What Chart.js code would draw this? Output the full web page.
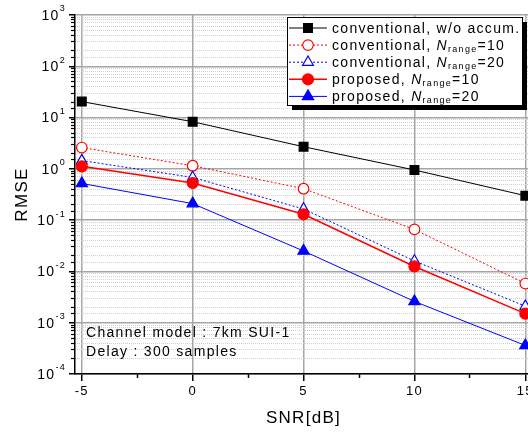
<!DOCTYPE html>
<html>
<head>
<meta charset="utf-8">
<script src="https://cdn.jsdelivr.net/npm/chart.js@4/dist/chart.umd.min.js"></script>
<style>
html, body { margin: 0; padding: 0; overflow: hidden; background: #fff; }
</style>
</head>
<body>
<canvas id="rmseChart" width="540" height="432"></canvas>
<script>
// SNR points and RMSE readings
const snrDb = [-5, 0, 5, 10, 15];
const snrMinorTicks = [-2.5, 2.5, 7.5, 12.5];
const rmseConvWoAccum = [20.5, 8.3, 2.7, 0.95, 0.3];
const rmseConvN10 = [2.6, 1.15, 0.41, 0.066, 0.0058];
const rmseConvN20 = [1.45, 0.68, 0.165, 0.016, 0.0021];
const rmsePropN10 = [1.12, 0.53, 0.13, 0.0125, 0.0015];
const rmsePropN20 = [0.52, 0.21, 0.025, 0.0026, 0.00036];
const decades = [-4, -3, -2, -1, 0, 1, 2, 3];

// legend text: prefix, then N_range = value (null for plain entries)
const legendPrefix = ['conventional, w/o accum.', 'conventional, ', 'conventional, ', 'proposed, ', 'proposed, '];
const legendRange = [null, '10', '20', '10', '20'];
const noteLines = ['Channel model : 7km SUI-1', 'Delay : 300 samples'];

const FONT = '"Liberation Sans", Arial, sans-serif';
Chart.defaults.font.family = FONT;
Chart.defaults.color = '#000';

function pts(vals) {
    return vals.map((v, i) => ({ x: snrDb[i], y: v }));
}
function isDecade(v) {
    const l = Math.log10(v);
    return Math.abs(l - Math.round(l)) < 1e-6;
}

const seriesStyle = [
    { color: '#000000', dash: [], marker: 'rect', r: 6.2, open: false, width: 1 },
    { color: '#ff0000', dash: [2, 2], marker: 'circle', r: 5.3, open: true, width: 1 },
    { color: '#0000ff', dash: [2, 2], marker: 'triangle', r: 6.2, open: true, width: 1 },
    { color: '#ff0000', dash: [], marker: 'circle', r: 5.5, open: false, width: 1.5 },
    { color: '#0000ff', dash: [], marker: 'triangle', r: 6.5, open: false, width: 1 }
];
const seriesData = [rmseConvWoAccum, rmseConvN10, rmseConvN20, rmsePropN10, rmsePropN20];

const datasets = seriesData.map((vals, i) => {
    const s = seriesStyle[i];
    return {
        label: legendPrefix[i] + (legendRange[i] ? 'Nrange=' + legendRange[i] : ''),
        data: pts(vals),
        borderColor: s.color,
        borderWidth: s.width,
        borderDash: s.dash,
        fill: false,
        tension: 0,
        pointStyle: s.marker,
        pointRadius: s.r,
        pointHoverRadius: s.r,
        pointBackgroundColor: s.open ? '#ffffff' : s.color,
        pointBorderColor: s.color,
        pointBorderWidth: 1.2,
        order: 4 - i
    };
});

function drawMarker(ctx, s, x, y) {
    ctx.save();
    ctx.setLineDash([]);
    ctx.lineWidth = 1.2;
    ctx.strokeStyle = s.color;
    ctx.fillStyle = s.open ? '#ffffff' : s.color;
    ctx.beginPath();
    if (s.marker === 'rect') {
        const h = s.r * Math.SQRT1_2;
        ctx.rect(x - h, y - h, 2 * h, 2 * h);
    } else if (s.marker === 'circle') {
        ctx.arc(x, y, s.r, 0, Math.PI * 2);
    } else {
        for (let k = 0; k < 3; k++) {
            const a = k * 2 * Math.PI / 3;
            const px = x + Math.sin(a) * s.r, py = y - Math.cos(a) * s.r;
            if (k === 0) ctx.moveTo(px, py); else ctx.lineTo(px, py);
        }
        ctx.closePath();
    }
    ctx.fill();
    ctx.stroke();
    ctx.restore();
}

const extras = {
    id: 'extras',
    beforeDraw(chart) {
        chart.ctx.letterSpacing = '1.3px';
    },
    afterDraw(chart) {
        const ctx = chart.ctx;
        const y = chart.scales.y;
        ctx.save();
        ctx.fillStyle = '#000';

        // y tick labels with superscript exponents
        decades.forEach(e => {
            const py = y.getPixelForValue(Math.pow(10, e));
            ctx.font = '14px ' + FONT;
            const wBase = ctx.measureText('10').width;
            ctx.font = '9px ' + FONT;
            const wExp = ctx.measureText(String(e)).width;
            const x0 = 66 - wBase - wExp;
            ctx.textBaseline = 'middle';
            ctx.textAlign = 'left';
            ctx.font = '14px ' + FONT;
            ctx.fillText('10', x0, py + 1);
            ctx.font = '9px ' + FONT;
            ctx.fillText(String(e), x0 + wBase, py - 6);
        });

        // annotation
        ctx.font = '14px ' + FONT;
        ctx.textBaseline = 'middle';
        ctx.textAlign = 'left';
        noteLines.forEach((t, i) => ctx.fillText(t, 86, 333 + i * 19));

        // legend box with shadow
        const bx = 287, by = 17, bw = 235, bh = 88;
        ctx.fillStyle = '#000';
        ctx.fillRect(bx + 5, by + 5, bw, bh);
        ctx.fillStyle = '#fff';
        ctx.fillRect(bx, by, bw, bh);
        ctx.strokeStyle = '#000';
        ctx.lineWidth = 1;
        ctx.strokeRect(bx + 0.5, by + 0.5, bw, bh);

        legendPrefix.forEach((txt, i) => {
            const s = seriesStyle[i];
            const rowY = 28 + i * 17.1;
            ctx.save();
            ctx.strokeStyle = s.color;
            ctx.lineWidth = s.width;
            ctx.setLineDash(s.dash);
            ctx.beginPath();
            ctx.moveTo(289, rowY);
            ctx.lineTo(327, rowY);
            ctx.stroke();
            ctx.restore();
            drawMarker(ctx, s, 308, rowY);

            ctx.fillStyle = '#000';
            ctx.textBaseline = 'alphabetic';
            const base = rowY + 5;
            let x = 332;
            ctx.font = '14px ' + FONT;
            ctx.fillText(txt, x, base);
            x += ctx.measureText(txt).width;
            if (legendRange[i]) {
                ctx.font = 'italic 14px ' + FONT;
                ctx.fillText('N', x, base);
                x += ctx.measureText('N').width;
                ctx.font = '9px ' + FONT;
                ctx.fillText('range', x, base + 2);
                x += ctx.measureText('range').width;
                ctx.font = '14px ' + FONT;
                ctx.fillText('=' + legendRange[i], x, base);
            }
        });
        ctx.restore();
    }
};

new Chart(document.getElementById('rmseChart'), {
    type: 'line',
    data: { datasets: datasets },
    options: {
        responsive: false,
        animation: false,
        devicePixelRatio: 1,
        layout: { padding: { top: 15, right: 8, left: 0, bottom: 0 } },
        plugins: { legend: { display: false }, tooltip: { enabled: false } },
        scales: {
            x: {
                type: 'linear',
                position: 'bottom',
                min: -5.306,
                max: 15.3,
                weight: 1,
                afterBuildTicks: s => { s.ticks = snrDb.map(v => ({ value: v })); },
                afterFit: s => { s.height = 58; },
                grid: { color: '#a6a6a6', lineWidth: 1.5, tickLength: 7, tickColor: '#000', tickWidth: 1.5 },
                border: { color: '#000', width: 1.5 },
                ticks: { font: { size: 13 }, padding: 3, maxRotation: 0, autoSkip: false },
                title: { display: true, text: 'SNR[dB]', font: { size: 17 }, padding: { top: 0, bottom: 3 } }
            },
            xMinor: {
                type: 'linear',
                position: 'bottom',
                min: -5.306,
                max: 15.3,
                weight: 0,
                afterBuildTicks: s => { s.ticks = snrMinorTicks.map(v => ({ value: v })); },
                afterFit: s => { s.height = 0; },
                grid: { drawOnChartArea: false, tickLength: 4, tickColor: '#000', tickWidth: 1.5 },
                border: { display: false },
                ticks: { display: false }
            },
            y: {
                type: 'logarithmic',
                position: 'left',
                min: 1e-4,
                max: 1e3,
                weight: 1,
                afterFit: s => { s.width = 75; },
                ticks: { display: false },
                grid: {
                    color: c => isDecade(c.tick.value) ? '#a6a6a6' : 'rgba(0,0,0,0)',
                    lineWidth: 1.5,
                    tickLength: 6,
                    tickColor: c => isDecade(c.tick.value) ? '#000' : 'rgba(0,0,0,0)',
                    tickWidth: 1.5
                },
                border: { color: '#000', width: 1.5 },
                title: { display: true, text: 'RMSE', font: { size: 17 }, padding: { top: 12 } }
            },
            yMinor: {
                type: 'logarithmic',
                position: 'left',
                min: 1e-4,
                max: 1e3,
                weight: 0,
                afterFit: s => { s.width = 0; },
                ticks: { display: false },
                grid: {
                    color: c => isDecade(c.tick.value) ? 'rgba(0,0,0,0)' : '#d0d0d0',
                    lineWidth: 1,
                    tickLength: 4,
                    tickColor: c => isDecade(c.tick.value) ? 'rgba(0,0,0,0)' : '#000',
                    tickWidth: 1.2
                },
                border: { display: false, dash: [1, 1] }
            }
        }
    },
    plugins: [extras]
});
</script>
</body>
</html>
